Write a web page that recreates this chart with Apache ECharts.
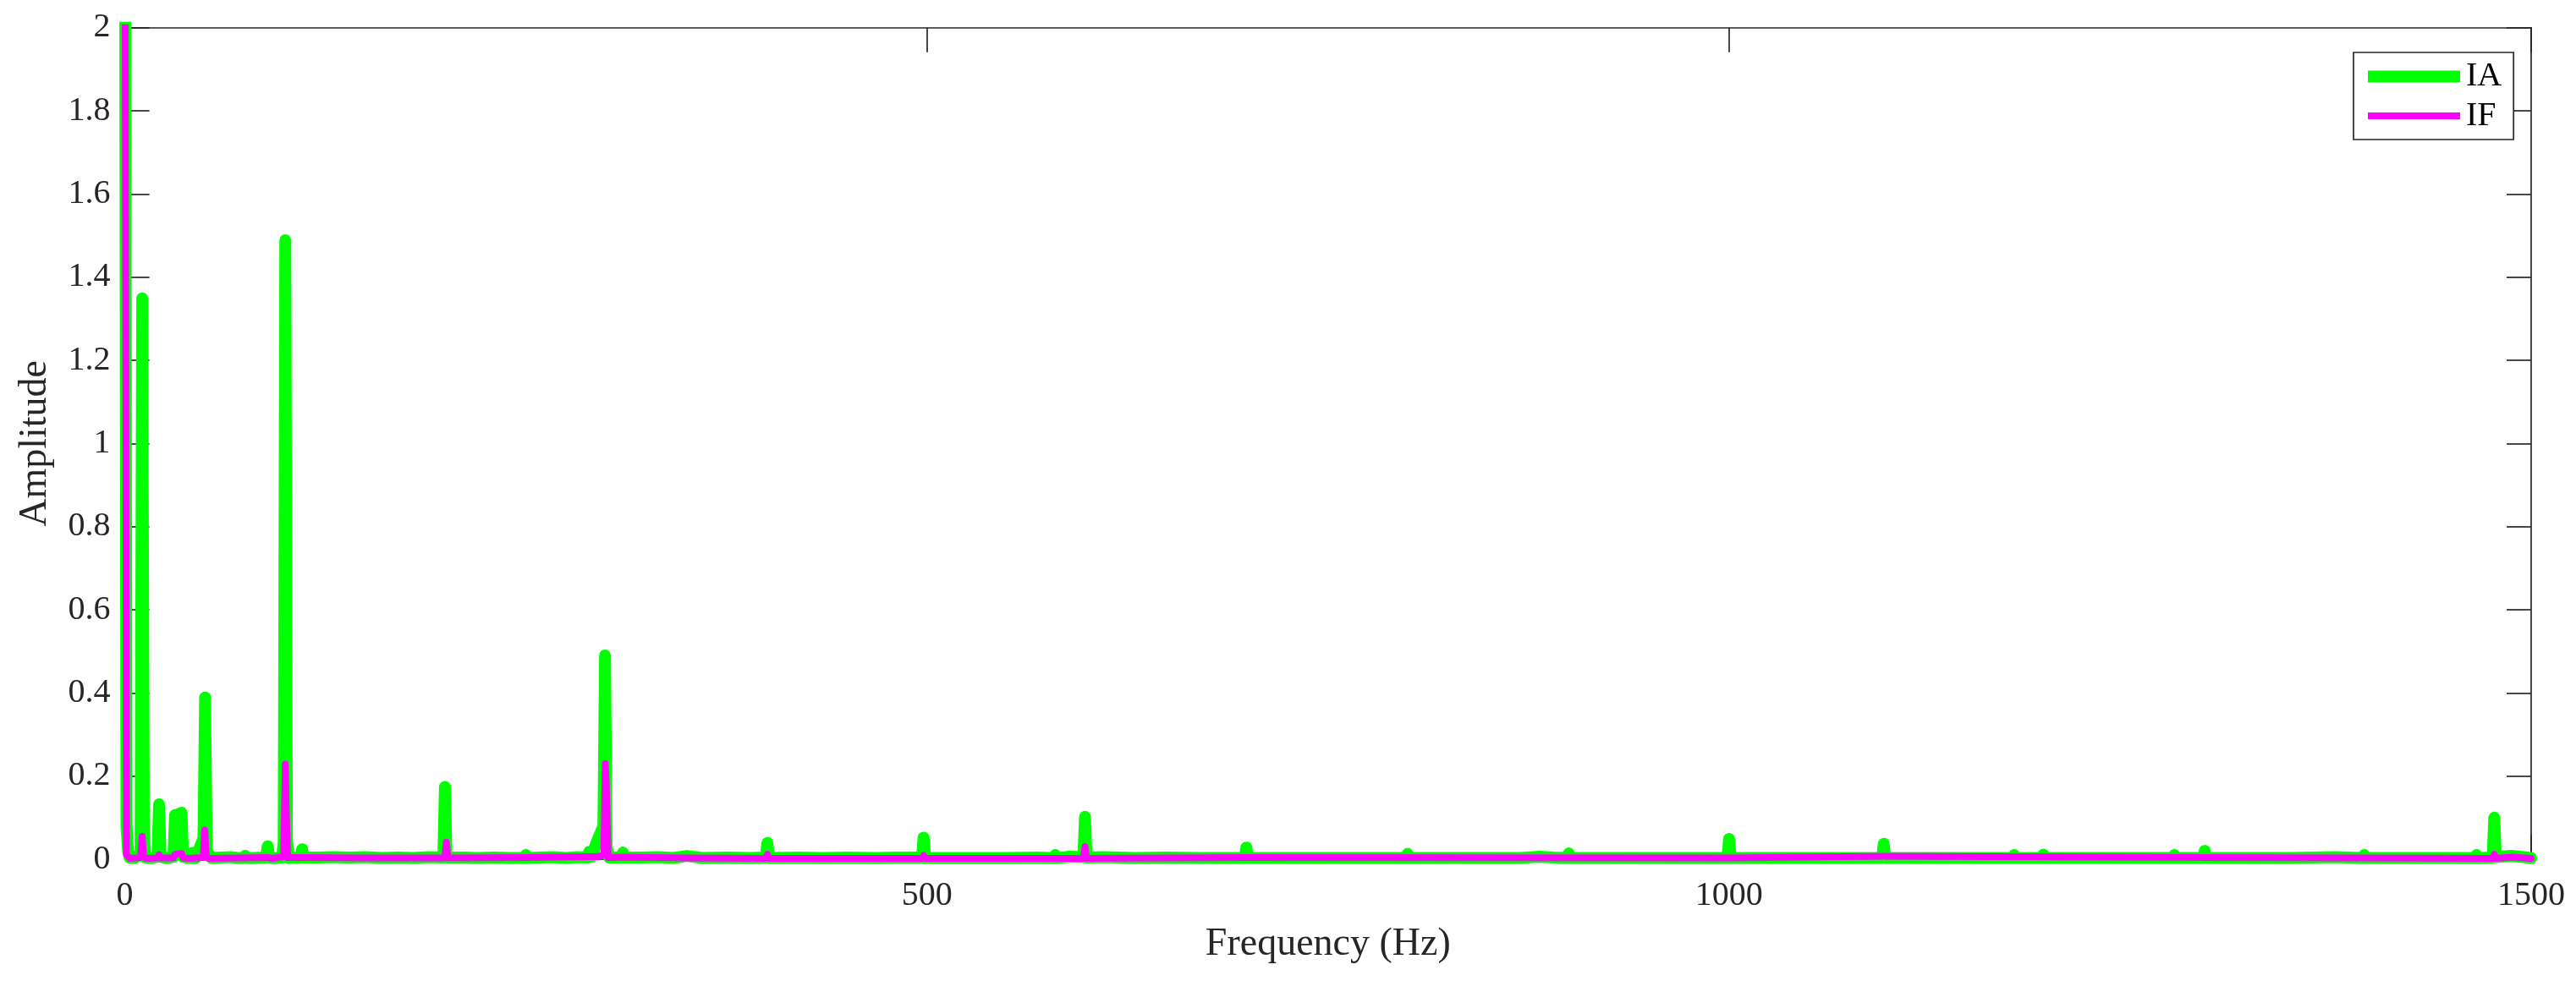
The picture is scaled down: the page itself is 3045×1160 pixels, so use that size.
<!DOCTYPE html>
<html>
<head>
<meta charset="utf-8">
<script src="https://cdn.jsdelivr.net/npm/echarts@6/dist/echarts.min.js"></script>
<style>
html,body{margin:0;padding:0;background:#fff;}
#chart{width:3045px;height:1160px;}
</style>
</head>
<body>
<div id="chart"></div>
<script>
// ---- Data ----
const xTicks = [0, 500, 1000, 1500];
const seriesNames = ['IA', 'IF'];

// IA (green) spectrum: frequency (Hz) and amplitude
const iaFreq = [
  0, 1, 2, 3, 6,
  9.8, 10.8, 11.8, 12.8, 16,
  20.3, 21.3, 22.3, 26,
  30.3, 31.3, 33.3, 35.3, 36.3, 39,
  40.9, 41.9, 42.9, 44,
  49, 50, 51, 54,
  60, 66, 70, 74, 75, 76, 80, 86,
  88, 89, 90, 92, 98,
  99, 100, 101, 102,
  109.5, 110.5, 111.5, 120, 130, 140, 150, 160, 170, 180, 189.5,
  198.5, 199.5, 200.5, 211, 220, 230, 240,
  249, 250, 251, 266.7, 275, 282,
  288.5, 289.5, 291, 294, 298.3, 299.3, 300.3, 302,
  309.5, 310.5, 311.5, 320, 333, 342, 350.3, 360, 375, 390,
  399.5, 400.5, 401.5, 420, 435, 450, 468, 480,
  496.9, 497.9, 498.9, 520, 548, 568.7,
  579, 580, 581, 589,
  597.5, 598.5, 599.5, 609.7, 630, 648.8, 670,
  698.1, 699.1, 700.1, 710, 749.3, 780,
  798.6, 799.6, 800.6, 816, 849.8, 870, 881.5, 891,
  899.1, 900.1, 901.1, 916.8, 950.5, 980,
  999, 1000, 1001, 1019, 1050, 1077,
  1095.4, 1096.4, 1097.4, 1118.6, 1150,
  1176.8, 1177.8, 1178.8, 1194.9, 1195.9, 1196.9, 1220, 1250,
  1276.6, 1277.6, 1278.6, 1295.5, 1296.5, 1297.5, 1321, 1350,
  1377.5, 1395, 1396, 1397, 1424, 1450,
  1465, 1466, 1467, 1476, 1477, 1478, 1487.6, 1495.4, 1500
];
const iaAmp = [
  2.6, 0.08, 0.02, 0.004, 0.003,
  0.012, 1.349, 0.07, 0.004, 0.003,
  0.006, 0.132, 0.006, 0.003,
  0.006, 0.106, 0.108, 0.112, 0.006, 0.003,
  0.003, 0.015, 0.003, 0.003,
  0.05, 0.389, 0.02, 0.003,
  0.004, 0.005, 0.003, 0.003, 0.008, 0.003, 0.003, 0.004,
  0.004, 0.031, 0.004, 0.003, 0.004,
  0.04, 1.489, 0.05, 0.003,
  0.004, 0.024, 0.004, 0.004, 0.005, 0.004, 0.005, 0.003, 0.004, 0.003, 0.005,
  0.004, 0.174, 0.004, 0.004, 0.003, 0.004, 0.003,
  0.003, 0.010, 0.003, 0.005, 0.003, 0.005,
  0.004, 0.018, 0.006, 0.04, 0.08, 0.490, 0.03, 0.004,
  0.004, 0.016, 0.004, 0.004, 0.005, 0.003, 0.008, 0.003, 0.004, 0.003,
  0.004, 0.039, 0.003, 0.004, 0.003, 0.004, 0.003, 0.004,
  0.004, 0.052, 0.003, 0.003, 0.003, 0.004,
  0.003, 0.010, 0.003, 0.006,
  0.005, 0.102, 0.004, 0.005, 0.003, 0.004, 0.003,
  0.003, 0.028, 0.003, 0.003, 0.003, 0.003,
  0.003, 0.013, 0.003, 0.003, 0.003, 0.003, 0.006, 0.004,
  0.003, 0.014, 0.003, 0.003, 0.003, 0.003,
  0.003, 0.049, 0.003, 0.003, 0.003, 0.003,
  0.003, 0.037, 0.003, 0.003, 0.003,
  0.003, 0.010, 0.003, 0.003, 0.011, 0.003, 0.003, 0.003,
  0.003, 0.010, 0.003, 0.003, 0.020, 0.003, 0.003, 0.003,
  0.005, 0.003, 0.010, 0.003, 0.003, 0.003,
  0.003, 0.010, 0.003, 0.004, 0.100, 0.005, 0.008, 0.005, 0.003
];

// IF (magenta) spectrum: frequency (Hz) and amplitude
const ifFreq = [
  0, 1, 3,
  9.8, 10.8, 11.8, 14,
  20.3, 21.3, 22.3,
  30.3, 31.3, 35.3, 36.3, 40,
  48.8, 49.8, 50.8, 53,
  89, 92,
  99, 100, 100.6, 101.5,
  110.5, 150,
  199.4, 200.4, 201.4, 250,
  289.5, 294, 298.5, 299.5, 300.1, 301.2,
  310.5, 350,
  399.5, 400.5, 401.5,
  496.9, 497.9, 498.9,
  597.5, 598.5, 599.5,
  699.1, 1000, 1096.4, 1296.5, 1396,
  1476, 1477, 1478, 1487.6, 1500
];
const ifAmp = [
  2.6, 0.01, 0.002,
  0.004, 0.055, 0.004, 0.002,
  0.003, 0.011, 0.003,
  0.003, 0.012, 0.014, 0.003, 0.002,
  0.004, 0.070, 0.004, 0.002,
  0.004, 0.002,
  0.006, 0.229, 0.12, 0.004,
  0.004, 0.003,
  0.003, 0.041, 0.003, 0.004,
  0.006, 0.006, 0.01, 0.230, 0.18, 0.004,
  0.005, 0.003,
  0.002, 0.012, 0.002,
  0.002, 0.0095, 0.002,
  0.002, 0.030, 0.002,
  0.004, 0.003, 0.007, 0.004, 0.003,
  0.002, 0.012, 0.002, 0.005, 0.002
];

const iaData = iaFreq.map((f, i) => [f, iaAmp[i]]);
const ifData = ifFreq.map((f, i) => [f, ifAmp[i]]);

// ---- Layout ----
const FONT = 'Liberation Serif';
const AX = '#262626';
const L = 147.6, R = 2992, T = 32.7, B = 1016;
const W = 3045, H = 1160;
const pxPerHz = (R - L) / 1500;
const pxPerUnit = (B - T) / 2;
const pad = 8;
const xPadHz = pad / pxPerHz;
const yPadU = pad / pxPerUnit;

const plainNum = v => String(Math.round(v * 1000) / 1000);

const chart = echarts.init(document.getElementById('chart'), null, {renderer: 'canvas'});
chart.setOption({
  animation: false,
  backgroundColor: '#ffffff',
  grid: [
    {left: L - pad, right: W - R - pad, top: T, bottom: H - B - pad, outerBoundsMode: 'none', containLabel: false},
    {left: L, right: W - R, top: T, bottom: H - B, outerBoundsMode: 'none', containLabel: false}
  ],
  xAxis: [
    {type: 'value', gridIndex: 0, min: -xPadHz, max: 1500 + xPadHz, show: false},
    {
      type: 'value', gridIndex: 1, min: 0, max: 1500, interval: 500, position: 'bottom',
      name: 'Frequency (Hz)', nameLocation: 'middle', nameGap: 78,
      nameTextStyle: {fontFamily: FONT, fontSize: 46, color: AX},
      axisLine: {show: true, onZero: false, lineStyle: {color: AX, width: 1.7}},
      axisTick: {show: true, inside: true, length: 29, lineStyle: {color: AX, width: 1.7}, customValues: xTicks},
      axisLabel: {show: true, margin: 23, fontFamily: FONT, fontSize: 40, color: AX, customValues: xTicks, formatter: plainNum},
      splitLine: {show: false}
    },
    {
      type: 'value', gridIndex: 1, min: 0, max: 1500, interval: 500, position: 'top',
      axisLine: {show: true, onZero: false, lineStyle: {color: AX, width: 1.7}},
      axisTick: {show: true, inside: true, length: 29, lineStyle: {color: AX, width: 1.7}, customValues: xTicks},
      axisLabel: {show: false},
      splitLine: {show: false}
    }
  ],
  yAxis: [
    {type: 'value', gridIndex: 0, min: -yPadU, max: 2, show: false},
    {
      type: 'value', gridIndex: 1, min: 0, max: 2, interval: 0.2, position: 'left',
      name: 'Amplitude', nameLocation: 'middle', nameGap: 83,
      nameTextStyle: {fontFamily: FONT, fontSize: 46, color: AX},
      axisLine: {show: true, onZero: false, lineStyle: {color: AX, width: 1.7}},
      axisTick: {show: true, inside: true, length: 29, lineStyle: {color: AX, width: 1.7}},
      axisLabel: {show: true, margin: 17, fontFamily: FONT, fontSize: 40, color: AX, formatter: plainNum},
      splitLine: {show: false}
    },
    {
      type: 'value', gridIndex: 1, min: 0, max: 2, interval: 0.2, position: 'right',
      axisLine: {show: true, onZero: false, lineStyle: {color: AX, width: 1.7}},
      axisTick: {show: true, inside: true, length: 29, lineStyle: {color: AX, width: 1.7}},
      axisLabel: {show: false},
      splitLine: {show: false}
    }
  ],
  legend: {
    show: true,
    orient: 'vertical',
    left: 2782, top: 62,
    padding: [8.5, 14, 8, 10],
    itemWidth: 109, itemHeight: 14, itemGap: 6.5,
    borderColor: AX, borderWidth: 1.7, backgroundColor: '#ffffff',
    selectedMode: false,
    itemStyle: {opacity: 0, borderWidth: 0},
    lineStyle: {width: 'inherit', cap: 'butt'},
    textStyle: {fontFamily: FONT, fontSize: 40, lineHeight: 40, color: '#000000', padding: [0, 0, 0, 2]},
    data: seriesNames
  },
  series: [
    {
      name: seriesNames[0], type: 'line', xAxisIndex: 0, yAxisIndex: 0,
      data: iaData, showSymbol: false, symbol: 'none', symbolSize: 0, clip: true, sampling: null,
      lineStyle: {color: '#00ff00', width: 14, cap: 'round', join: 'round'},
      itemStyle: {color: '#00ff00'}, z: 3
    },
    {
      name: seriesNames[1], type: 'line', xAxisIndex: 0, yAxisIndex: 0,
      data: ifData, showSymbol: false, symbol: 'none', symbolSize: 0, clip: true, sampling: null,
      lineStyle: {color: '#ff00ff', width: 8, cap: 'round', join: 'round'},
      itemStyle: {color: '#ff00ff'}, z: 4
    }
  ]
});
</script>
</body>
</html>
